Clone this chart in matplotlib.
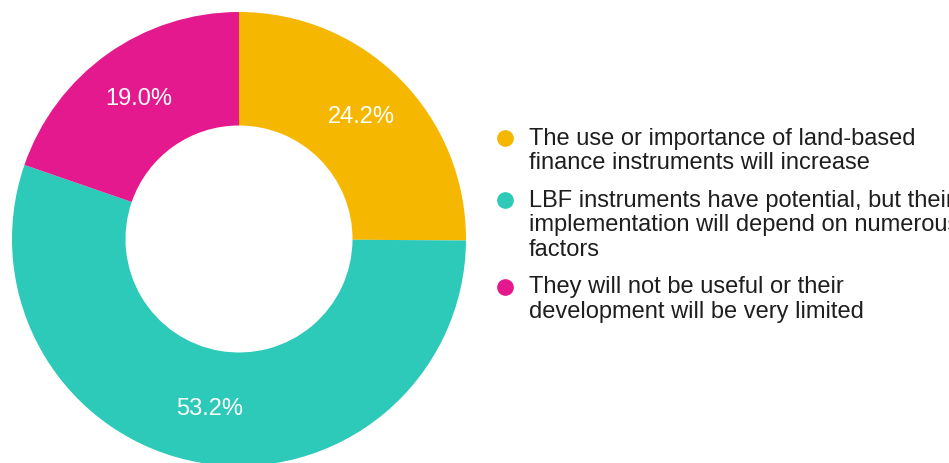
import matplotlib
matplotlib.use('Agg')
import matplotlib.pyplot as plt
from matplotlib.lines import Line2D

plt.rcParams['font.family'] = ['Liberation Sans', 'DejaVu Sans']

# survey answers (shares as published, they don't add up to 100)
values = [24.2, 53.2, 19.0]
colors = ['#F6B700', '#2DC9B9', '#E4198D']
labels = [
    'The use or importance of land-based\nfinance instruments will increase',
    'LBF instruments have potential, but their\nimplementation will depend on numerous\nfactors',
    'They will not be useful or their\ndevelopment will be very limited',
]
total = sum(values)

W, H = 949, 463
fig = plt.figure(figsize=(W / 100, H / 100), dpi=100)

# donut
cx, cy, r = 239, 239, 227
ax = fig.add_axes([(cx - r) / W, (H - cy - r) / H, 2 * r / W, 2 * r / H])
wedges, texts, autotexts = ax.pie(
    values, colors=colors, startangle=90, counterclock=False,
    wedgeprops=dict(width=0.5, linewidth=0),
    autopct=lambda p: f'{p * total / 100:.1f}%', pctdistance=0.76,
    textprops=dict(color='white', fontsize=17))
ax.set_xlim(-1, 1)
ax.set_ylim(-1, 1)
ax.set_aspect('equal')

# legend drawn by hand so the dot sits on the first line of each entry
lx = fig.add_axes([0, 0, 1, 1])
lx.set_xlim(0, W)
lx.set_ylim(H, 0)
lx.axis('off')
pitch, gap = 24.5, 13
y = 128
for lab, col in zip(labels, colors):
    lx.add_line(Line2D([505], [y + 10], marker='o', markersize=11,
                       color=col, linestyle='none'))
    lx.text(529, y, lab, fontsize=17, color='#1e1e1e', va='top', ha='left',
            linespacing=1.14)
    y += pitch * (lab.count('\n') + 1) + gap

fig.savefig('out.png', dpi=100)
